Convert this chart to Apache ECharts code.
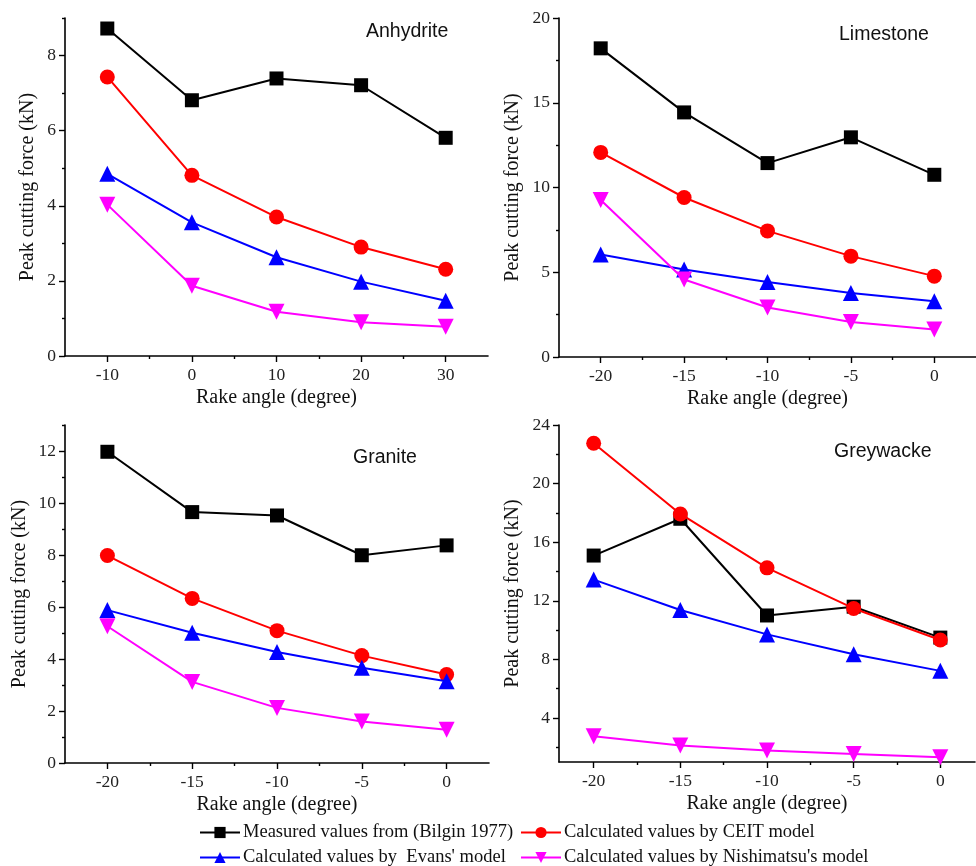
<!DOCTYPE html>
<html>
<head>
<meta charset="utf-8">
<script src="https://cdn.jsdelivr.net/npm/echarts@6/dist/echarts.min.js"></script>
<style>
  html, body { margin: 0; padding: 0; background: #fff; }
  #chart { width: 976px; height: 866px; }
</style>
</head>
<body>
<div id="chart"></div>
<script>
// series names
var seriesNames = [
    'Measured values from (Bilgin 1977)',
    'Calculated values by CEIT model',
    'Calculated values by  Evans\' model',
    'Calculated values by Nishimatsu\'s model'
];

// rake angles (degree)
var anhydriteAngles = [-10, 0, 10, 20, 30];
var otherAngles = [-20, -15, -10, -5, 0];

// peak cutting force (kN)
var anhydriteMeasured = [8.72, 6.81, 7.39, 7.21, 5.81];
var anhydriteCeit = [7.43, 4.81, 3.70, 2.90, 2.31];
var anhydriteEvans = [4.85, 3.56, 2.63, 1.98, 1.47];
var anhydriteNishimatsu = [4.03, 1.87, 1.18, 0.90, 0.78];

var limestoneMeasured = [18.21, 14.43, 11.44, 12.96, 10.75];
var limestoneCeit = [12.07, 9.41, 7.44, 5.95, 4.77];
var limestoneEvans = [6.05, 5.16, 4.43, 3.78, 3.29];
var limestoneNishimatsu = [9.26, 4.57, 2.92, 2.07, 1.62];

var graniteMeasured = [11.97, 9.65, 9.52, 7.99, 8.37];
var graniteCeit = [7.98, 6.33, 5.09, 4.13, 3.40];
var graniteEvans = [5.88, 5.01, 4.27, 3.66, 3.14];
var graniteNishimatsu = [5.26, 3.12, 2.12, 1.60, 1.28];

var greywackeMeasured = [15.09, 17.6, 11.0, 11.6, 9.49];
var greywackeCeit = [22.75, 17.93, 14.25, 11.48, 9.33];
var greywackeEvans = [13.45, 11.37, 9.71, 8.35, 7.22];
var greywackeNishimatsu = [2.75, 2.12, 1.78, 1.55, 1.33];

// tick labels
var anhydriteXTicks = [-10, 0, 10, 20, 30];
var anhydriteXMinor = [-5, 5, 15, 25];
var otherXTicks = [-20, -15, -10, -5, 0];
var otherXMinor = [-17.5, -12.5, -7.5, -2.5];
var anhydriteYTicks = [0, 2, 4, 6, 8];
var anhydriteYMinor = [1, 3, 5, 7, 9];
var limestoneYTicks = [0, 5, 10, 15, 20];
var limestoneYMinor = [2.5, 7.5, 12.5, 17.5];
var graniteYTicks = [0, 2, 4, 6, 8, 10, 12];
var graniteYMinor = [1, 3, 5, 7, 9, 11, 13];
var greywackeYTicks = [4, 8, 12, 16, 20, 24];
var greywackeYMinor = [2, 6, 10, 14, 18, 22];

var panelNames = ['Anhydrite', 'Limestone', 'Granite', 'Greywacke'];

var colors = ['#000000', '#ff0000', '#0000ff', '#ff00ff'];
var symbols = ['rect', 'circle', 'triangle', 'triangle'];
var symbolSizes = [14, 15, 16, 16];
var symbolRotates = [0, 0, 0, 180];

var serif = 'Liberation Serif';

var panels = [
    {
        grid: { left: 65, top: 18, width: 423, height: 338 },
        x: [-15, 35], y: [0, 9],
        xTicks: anhydriteXTicks, xMinor: anhydriteXMinor,
        yTicks: anhydriteYTicks, yMinor: anhydriteYMinor,
        nameGap: 27,
        angles: anhydriteAngles,
        data: [anhydriteMeasured, anhydriteCeit, anhydriteEvans, anhydriteNishimatsu],
        title: { left: 366, top: 22 }
    },
    {
        grid: { left: 559, top: 18, width: 423, height: 339 },
        x: [-22.5, 2.5], y: [0, 20],
        xTicks: otherXTicks, xMinor: otherXMinor,
        yTicks: limestoneYTicks, yMinor: limestoneYMinor,
        nameGap: 36,
        angles: otherAngles,
        data: [limestoneMeasured, limestoneCeit, limestoneEvans, limestoneNishimatsu],
        title: { left: 839, top: 25 }
    },
    {
        grid: { left: 65, top: 425, width: 424, height: 338 },
        x: [-22.5, 2.5], y: [0, 13],
        xTicks: otherXTicks, xMinor: otherXMinor,
        yTicks: graniteYTicks, yMinor: graniteYMinor,
        nameGap: 35,
        angles: otherAngles,
        data: [graniteMeasured, graniteCeit, graniteEvans, graniteNishimatsu],
        title: { left: 353, top: 448 }
    },
    {
        grid: { left: 559, top: 425, width: 416, height: 337 },
        x: [-22, 2], y: [1, 24],
        xTicks: otherXTicks, xMinor: otherXMinor,
        yTicks: greywackeYTicks, yMinor: greywackeYMinor,
        nameGap: 36,
        angles: otherAngles,
        data: [greywackeMeasured, greywackeCeit, greywackeEvans, greywackeNishimatsu],
        title: { left: 834, top: 442 }
    }
];

var axisLine = { show: true, onZero: false, lineStyle: { color: '#000', width: 1.6 } };
var tickStyle = { color: '#000', width: 1.4 };

var grids = [];
var xAxes = [];
var yAxes = [];
var series = [];
var titles = [];

panels.forEach(function (p, i) {
    grids.push(p.grid);
    // main x axis
    xAxes.push({
        type: 'value', gridIndex: i, position: 'bottom', min: p.x[0], max: p.x[1],
        name: 'Rake angle (degree)', nameLocation: 'middle', nameGap: 32,
        nameTextStyle: { fontFamily: serif, fontSize: 20, color: '#111' },
        axisLine: axisLine,
        axisTick: { show: true, length: 6, customValues: p.xTicks, lineStyle: tickStyle },
        axisLabel: { customValues: p.xTicks, margin: 10, fontFamily: serif, fontSize: 17.5, color: '#222' },
        splitLine: { show: false }
    });
    // minor ticks x
    xAxes.push({
        type: 'value', gridIndex: i, position: 'bottom', min: p.x[0], max: p.x[1],
        axisLine: { show: false, onZero: false },
        axisTick: { show: true, length: 3, customValues: p.xMinor, lineStyle: tickStyle },
        axisLabel: { show: false },
        splitLine: { show: false }
    });
    yAxes.push({
        type: 'value', gridIndex: i, position: 'left', min: p.y[0], max: p.y[1],
        name: 'Peak cutting force (kN)', nameLocation: 'middle', nameGap: p.nameGap,
        nameTextStyle: { fontFamily: serif, fontSize: 20, color: '#111' },
        axisLine: axisLine,
        axisTick: { show: true, length: 6, customValues: p.yTicks, lineStyle: tickStyle },
        axisLabel: { customValues: p.yTicks, margin: 9, fontFamily: serif, fontSize: 17.5, color: '#222' },
        splitLine: { show: false }
    });
    // minor ticks y
    yAxes.push({
        type: 'value', gridIndex: i, position: 'left', min: p.y[0], max: p.y[1],
        axisLine: { show: false, onZero: false },
        axisTick: { show: true, length: 3, customValues: p.yMinor, lineStyle: tickStyle },
        axisLabel: { show: false },
        splitLine: { show: false }
    });

    p.data.forEach(function (vals, k) {
        series.push({
            name: seriesNames[k],
            type: 'line',
            xAxisIndex: 2 * i,
            yAxisIndex: 2 * i,
            data: p.angles.map(function (a, j) { return [a, vals[j]]; }),
            symbol: symbols[k],
            symbolSize: symbolSizes[k],
            symbolRotate: symbolRotates[k],
            showAllSymbol: true,
            clip: false,
            lineStyle: { color: colors[k], width: 2 },
            itemStyle: { color: colors[k] },
            z: 2 + k
        });
    });

    titles.push({
        text: panelNames[i],
        left: p.title.left, top: p.title.top, padding: 0,
        textStyle: { fontFamily: 'Liberation Sans', fontSize: 19.5, fontWeight: 'normal', color: '#111' }
    });
});

function legendAt(name, left, top) {
    return {
        data: [name], left: left, top: top, padding: 0,
        itemWidth: 40, itemHeight: 14, itemGap: 4,
        textStyle: { fontFamily: serif, fontSize: 18.5, color: '#111', padding: [0, 0, 0, -2] }
    };
}

var chart = echarts.init(document.getElementById('chart'));
chart.setOption({
    backgroundColor: '#ffffff',
    animation: false,
    title: titles,
    grid: grids,
    xAxis: xAxes,
    yAxis: yAxes,
    legend: [
        legendAt(seriesNames[0], 199, 823),
        legendAt(seriesNames[1], 520, 823),
        legendAt(seriesNames[2], 199, 848),
        legendAt(seriesNames[3], 520, 848)
    ],
    series: series
});
</script>
</body>
</html>
